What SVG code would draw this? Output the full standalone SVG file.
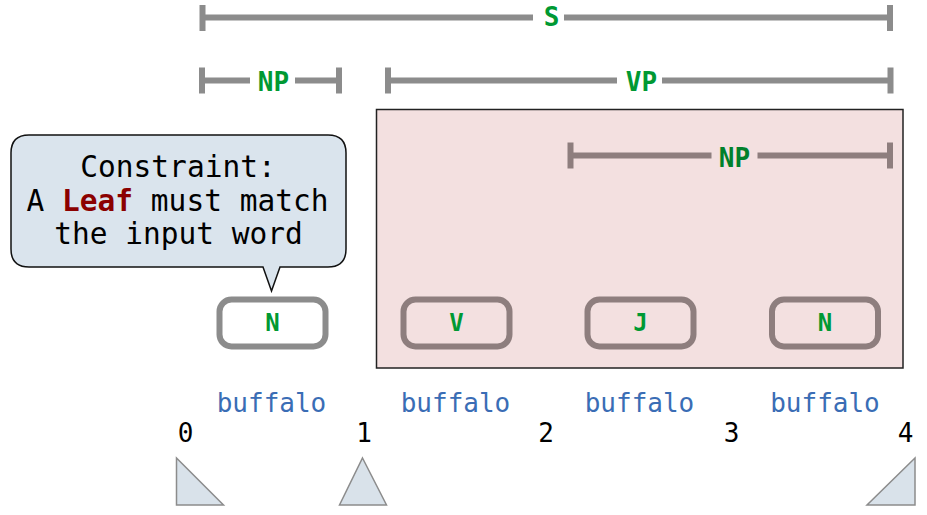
<svg xmlns="http://www.w3.org/2000/svg" width="927" height="515" viewBox="0 0 927 515">
<style>
.bar{stroke:#8c8c8c;stroke-width:6;fill:none}
.bar2{stroke:#8e7e7e;stroke-width:6;fill:none}
.lbl{font-family:"DejaVu Sans Mono",monospace;font-weight:bold;font-size:26px;fill:#009933;text-anchor:middle}
.lbl2{fill:#00802b}
.node{fill:#ffffff;stroke:#8c8c8c;stroke-width:6}
.node2{fill:none;stroke:#8e7e7e;stroke-width:6}
.nl{font-family:"DejaVu Sans Mono",monospace;font-weight:bold;font-size:24px;fill:#009933;text-anchor:middle}
.word{font-family:"DejaVu Sans Mono",monospace;font-size:26px;fill:#3a6db5;text-anchor:middle}
.num{font-family:"DejaVu Sans Mono",monospace;font-size:26px;fill:#000;text-anchor:middle}
.tri{fill:#d9e2ea;stroke:#8c8c8c;stroke-width:1.5}
.call{font-family:"DejaVu Sans Mono",monospace;font-size:29.5px;fill:#000;text-anchor:middle}
</style>
<rect id="vp-box" x="376.5" y="109.5" width="526.5" height="258.5" fill="#f3e0e0" stroke="#222" stroke-width="1.5"/>
<g id="connectors">
<g id="bar-S">
<path class="bar" d="M202.5 17.5H533M564 17.5H890M202.5 5V31M890 5V31"/>
<text class="lbl" x="551.5" y="26">S</text>
</g>
<g id="bar-NP1">
<path class="bar" d="M202 80.5H250M295 80.5H339M202 67.5V93.5M339 67.5V93.5"/>
<text class="lbl" x="273.5" y="90.5">NP</text>
</g>
<g id="bar-VP">
<path class="bar" d="M388 80.5H617M662 80.5H890.5M388 67.5V93.5M890.5 67.5V93.5"/>
<text class="lbl" x="641.5" y="90.5">VP</text>
</g>
<g id="bar-NP2">
<path class="bar2" d="M570.5 155.5H711.5M757.5 155.5H890M570.5 142.5V168.5M890 142.5V168.5"/>
<text class="lbl lbl2" x="734.5" y="167">NP</text>
</g>
</g>
<g id="callout">
<path d="M29 135H328Q346 135 346 153V249Q346 267 328 267H280L271.5 291L263 267H29Q11 267 11 249V153Q11 135 29 135Z" fill="#dae4ed" stroke="#111" stroke-width="1.5"/>
<text class="call" x="178" y="177">Constraint:</text>
<text class="call" x="177.5" y="210.5">A <tspan font-weight="bold" fill="#8b0000">Leaf</tspan> must match</text>
<text class="call" x="178.5" y="243.5">the input word</text>
</g>
<g id="node-N1">
<rect class="node" x="219.5" y="299.5" width="106" height="47" rx="12"/>
<text class="nl" x="272.5" y="331">N</text>
</g>
<g id="node-V">
<rect class="node2" x="403.5" y="299.5" width="106" height="47" rx="12"/>
<text class="nl lbl2" x="456.5" y="331">V</text>
</g>
<g id="node-J">
<rect class="node2" x="587.5" y="299.5" width="106" height="47" rx="12"/>
<text class="nl lbl2" x="640.5" y="331">J</text>
</g>
<g id="node-N2">
<rect class="node2" x="772" y="299.5" width="106" height="47" rx="12"/>
<text class="nl lbl2" x="825" y="331">N</text>
</g>
<g id="words">
<text class="word" x="271.5" y="411.5">buffalo</text>
<text class="word" x="455.5" y="411.5">buffalo</text>
<text class="word" x="639.5" y="411.5">buffalo</text>
<text class="word" x="825" y="411.5">buffalo</text>
</g>
<g id="indices">
<text class="num" x="185.5" y="441.5">0</text>
<text class="num" x="364" y="441.5">1</text>
<text class="num" x="546" y="441.5">2</text>
<text class="num" x="731.5" y="441.5">3</text>
<text class="num" x="905.5" y="441.5">4</text>
</g>
<g id="markers">
<path class="tri" d="M176.5 458L223.5 505H176.5Z"/>
<path class="tri" d="M362.5 458L386.5 505H339.5Z"/>
<path class="tri" d="M915 458V505H867Z"/>
</g>
</svg>
